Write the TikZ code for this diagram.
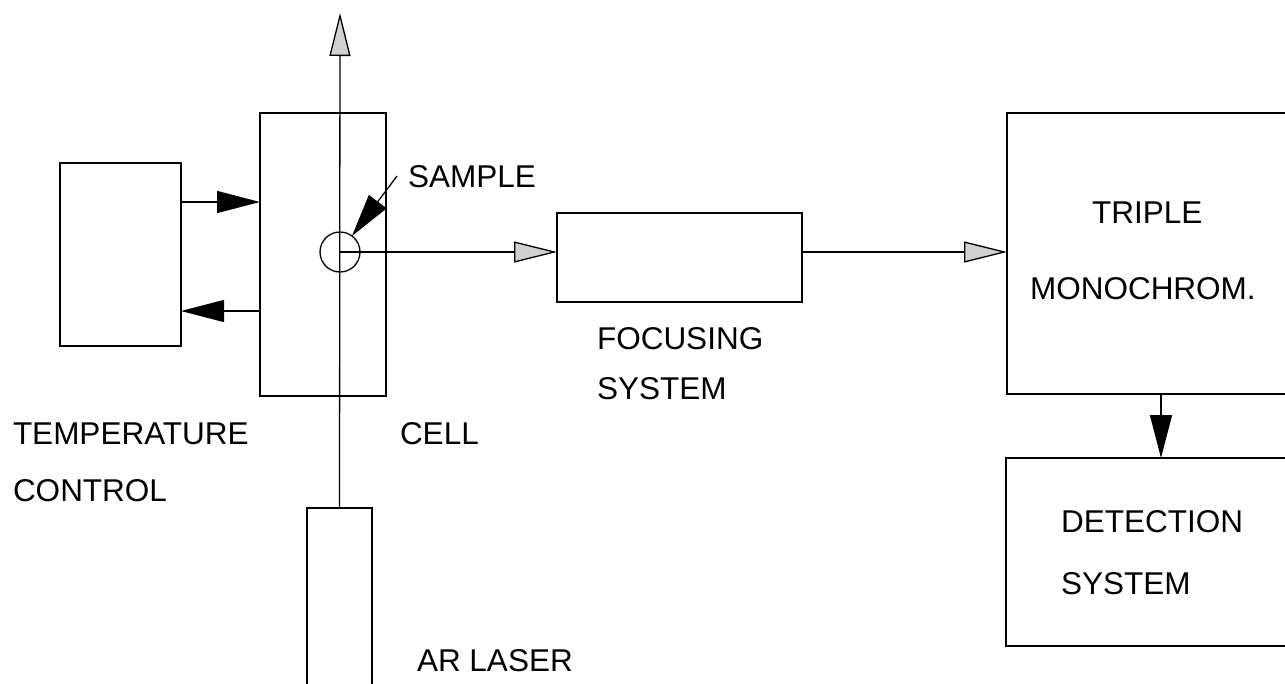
\documentclass[tikz,border=0pt]{standalone}
\usepackage{fontspec}
\setmainfont{Liberation Sans}
\usetikzlibrary{arrows.meta}
\tikzset{
  blacktip/.tip={Triangle[length=43pt,width=22pt]},
  greytip/.tip={Triangle[length=43pt,width=21pt,fill=black!18]},
  box/.style={draw, line width=1.3pt, inner sep=0pt, outer sep=0pt, rectangle},
  conn/.style={line width=1.3pt},
  lbl/.style={anchor=base west, inner sep=0pt, outer sep=0pt, font=\fontsize{31.5}{36}\selectfont}
}
\begin{document}
\begin{tikzpicture}[x=1pt,y=-1pt]
\useasboundingbox[fill=white] (0,0) rectangle (1285,683);
\clip (0,0) rectangle (1285,683);
% boxes
\node[box, minimum width=121pt, minimum height=183pt] (temp) at (120.5,254.5) {};
\node[box, minimum width=126pt, minimum height=283pt] (cell) at (323,254.5) {};
\node[box, minimum width=245pt, minimum height=89pt] (focus) at (679.5,257.5) {};
\node[box, minimum width=300pt, minimum height=281pt] (triple) at (1157,253.5) {};
\node[box, minimum width=300pt, minimum height=188pt] (detect) at (1156,552) {};
\node[box, minimum width=65pt, minimum height=200pt] (laser) at (339.5,608) {};
\node[draw, circle, line width=1.3pt, minimum size=40pt, inner sep=0pt, outer sep=0pt] (sample) at (340,252) {};
% free ends
\coordinate (beamtop) at (340,13);
\coordinate (sampletail) at (397,176);
% connectors
\draw[conn, -{greytip}] (laser.north) -- (beamtop);
\draw[conn, -{blacktip}] (temp.east |- 0,202) -- (cell.west |- 0,202);
\draw[conn, -{blacktip}] (cell.west |- 0,311) -- (temp.east |- 0,311);
\draw[conn, -{blacktip}] (sampletail) -- (sample);
\draw[conn, -{greytip}] (sample.center) -- (sample.center -| focus.west);
\draw[conn, -{greytip}] (sample.center -| focus.east) -- (sample.center -| triple.west);
\draw[conn, -{blacktip}] (triple.south -| 1161,0) -- (detect.north -| 1161,0);
% labels
\node[lbl] (tsample) at (408,187) {SAMPLE};
\node[lbl] (tfocus1) at (597,349) {FOCUSING};
\node[lbl] (tfocus2) at (597,399) {SYSTEM};
\node[lbl] (ttriple1) at (1092,223) {TRIPLE};
\node[lbl] (ttriple2) at (1030,299) {MONOCHROM.};
\node[lbl] (tdet1) at (1061,532) {DETECTION};
\node[lbl] (tdet2) at (1061,594) {SYSTEM};
\node[lbl] (ttemp1) at (13,444) {TEMPERATURE};
\node[lbl] (ttemp2) at (13,501) {CONTROL};
\node[lbl] (tcell) at (400,444) {CELL};
\node[lbl] (tlaser) at (417,671) {AR LASER};
\end{tikzpicture}
\end{document}
